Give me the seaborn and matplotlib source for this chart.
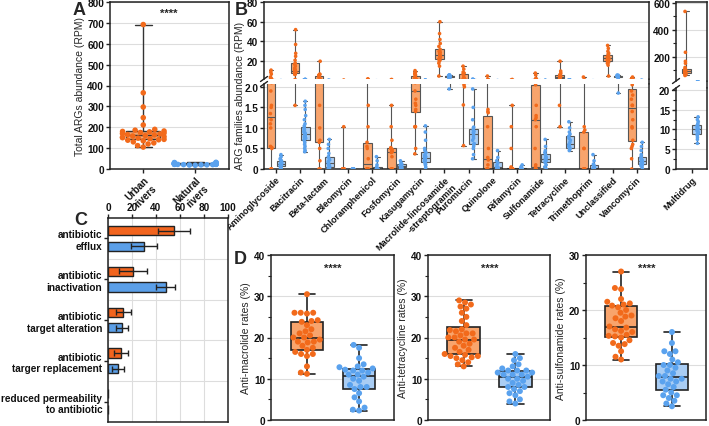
import numpy as np
import pandas as pd
import matplotlib
matplotlib.use("Agg")
import matplotlib.pyplot as plt
from matplotlib.lines import Line2D
from matplotlib.ticker import MultipleLocator
import seaborn as sns

sns.set_theme(style="ticks")
plt.rcParams["font.family"] = ["Liberation Sans", "DejaVu Sans"]
plt.rcParams["font.weight"] = "bold"
plt.rcParams["axes.labelweight"] = "normal"

# ---------------- data ----------------
groups = ["Urban rivers", "Natural rivers"]

# Panel A: total ARGs abundance (RPM)
a_urban = [692, 365, 297, 246, 211, 190, 186, 182, 180, 178, 175, 172, 170, 168, 165, 163,
           160, 158, 155, 152, 150, 148, 145, 142, 140, 138, 135, 130, 125, 120, 112, 105]
a_natural = [18, 19, 20, 20, 21, 21, 22, 22, 22, 23, 23, 24, 24, 24, 25, 25, 25, 26, 26, 26,
             27, 27, 28, 28, 29, 30, 31, 32]
a_ticklabels = ["Urban\nrivers", "Natural\nrivers"]

# Panel B: ARG family abundance (RPM)
families = ["Aminoglycoside", "Bacitracin", "Beta-lactam", "Bleomycin", "Chloramphenicol",
            "Fosfomycin", "Kasugamycin", "Macrolide-lincosamide\n-streptogramin", "Puromucin",
            "Quinolone", "Rifamycin", "Sulfonamide", "Tetracycline", "Trimethoprim",
            "Unclassified", "Vancomycin"]
aminoglycoside_u = [0, 0, 0, 0, 0.5, 0.52, 0.55, 1.0, 1.1, 1.2, 1.35, 1.5, 1.55, 1.9, 2.1, 2.2, 4, 7, 9, 11]
aminoglycoside_n = [0, 0.02, 0.05, 0.06, 0.08, 0.1, 0.1, 0.12, 0.12, 0.13, 0.15, 0.15, 0.18, 0.2, 0.22, 0.25, 0.3, 0.35]
bacitracin_u = [1.55, 6.5, 7, 7.5, 8, 8, 8.5, 9, 9, 9.5, 10, 11, 12, 13, 15, 17, 18, 21, 25, 28, 37, 52]
bacitracin_n = [0.42, 0.45, 0.5, 0.55, 0.6, 0.65, 0.7, 0.72, 0.75, 0.78, 0.8, 0.82, 0.85, 0.85, 0.88,
                0.9, 0.92, 0.95, 0.98, 1.0, 1.05, 1.1, 1.2, 1.3, 1.45, 1.55, 1.65]
betalactam_u = [0, 0, 0.2, 0.5, 0.65, 0.7, 1.0, 1.55, 2.4, 2.6, 3.5, 4.5, 5.5, 6, 6.5, 7, 20]
betalactam_n = [0, 0, 0.02, 0.03, 0.05, 0.08, 0.1, 0.1, 0.12, 0.15, 0.18, 0.22, 0.25, 0.3, 0.38, 0.5, 0.6, 0.72]
bleomycin_u = [0, 0, 0, 0, 0, 0, 0, 0, 0, 0, 0, 0, 0, 0, 1.03]
bleomycin_n = [0, 0, 0, 0, 0, 0, 0, 0, 0, 0, 0, 0]
chloramphenicol_u = [0, 0, 0, 0, 0, 0, 0, 0.25, 0.5, 0.55, 0.65, 1.03, 1.55, 2.2]
chloramphenicol_n = [0, 0, 0, 0, 0, 0, 0, 0, 0, 0.05, 0.1, 0.2, 0.3]
fosfomycin_u = [0, 0, 0, 0, 0, 0.3, 0.4, 0.42, 0.45, 0.48, 0.5, 0.52, 0.7, 1.03, 1.55]
fosfomycin_n = [0, 0.02, 0.04, 0.05, 0.06, 0.08, 0.1, 0.12, 0.15, 0.2]
kasugamycin_u = [0.37, 0.5, 1.03, 1.03, 1.03, 1.4, 1.45, 1.55, 1.6, 1.7, 1.9, 2.1, 2.3, 3, 4, 5, 6, 7, 8, 9, 10.5]
kasugamycin_n = [0, 0.05, 0.1, 0.12, 0.15, 0.18, 0.2, 0.22, 0.25, 0.25, 0.28, 0.3, 0.32, 0.35, 0.4,
                 0.45, 0.5, 0.7, 0.9, 1.05]
mls_u = [5, 15, 18, 20, 21, 22, 23, 24, 25, 25, 26, 27, 28, 29, 30, 32, 35, 38, 42, 48, 60]
mls_n = [1.95, 2.5, 3.5, 4, 4.2, 4.5, 4.6, 4.8, 5, 5, 5.2, 5.4, 5.6, 5.8, 6, 6.2]
puromucin_u = [0.57, 1.56, 2.0, 2.05, 2.1, 2.2, 2.3, 2.4, 2.5, 3, 5, 7, 8, 9, 12, 15]
puromucin_n = [0.25, 0.35, 0.5, 0.55, 0.6, 0.62, 0.7, 0.75, 0.8, 0.85, 0.88, 0.9, 0.92, 0.95, 1.0,
               1.02, 1.2, 1.5, 1.95]
quinolone_u = [0, 0, 0, 0, 0, 0.1, 0.22, 0.28, 0.5, 1.03, 1.37, 1.4, 1.45, 5]
quinolone_n = [0, 0, 0, 0, 0.03, 0.05, 0.1, 0.15, 0.2, 0.28, 0.45]
rifamycin_u = [0, 0, 0, 0, 0, 0, 0, 0, 0, 0, 0.02, 0.05, 0.5, 1.03, 1.55]
rifamycin_n = [0, 0, 0, 0, 0, 0, 0, 0.02, 0.05, 0.1]
sulfonamide_u = [0, 0, 0, 0, 0.05, 0.1, 0.5, 1.03, 1.2, 1.25, 1.3, 1.55, 2.05, 2.1, 2.2, 6, 8]
sulfonamide_n = [0, 0.05, 0.1, 0.15, 0.18, 0.2, 0.22, 0.25, 0.25, 0.28, 0.3, 0.35, 0.4, 0.45, 0.55, 0.72]
tetracycline_u = [1.03, 1.55, 2.5, 3, 3.5, 4, 4, 4.5, 5, 5.5, 6, 7, 8, 10, 20]
tetracycline_n = [0.45, 0.48, 0.5, 0.5, 0.52, 0.55, 0.56, 0.57, 0.6, 0.65, 0.7, 0.75, 0.8, 0.85, 0.9, 1.0, 1.15]
trimethoprim_u = [0, 0, 0, 0, 0, 0, 0, 0.5, 0.5, 0.9, 0.95, 1.03, 4]
trimethoprim_n = [0, 0, 0, 0, 0, 0.02, 0.05, 0.08, 0.1, 0.12, 0.2, 0.35]
unclassified_u = [5, 16, 18, 19, 20, 21, 21, 22, 22, 23, 23, 24, 25, 26, 27, 28, 30, 33, 36]
unclassified_n = [1.85, 3.5, 4, 4.2, 4.5, 4.7, 4.8, 5, 5, 5.2, 5.5, 5.8, 6]
vancomycin_u = [0, 0.25, 0.5, 0.55, 0.6, 0.7, 1.0, 1.03, 1.2, 1.4, 1.55, 1.55, 1.7, 1.8, 1.9, 2.05,
                2.1, 2.2, 2.3, 4]
vancomycin_n = [0, 0.05, 0.08, 0.1, 0.12, 0.15, 0.18, 0.2, 0.2, 0.22, 0.25, 0.28, 0.3, 0.35, 0.45, 0.55, 0.65]
multidrug_u = [60, 65, 70, 72, 75, 78, 80, 82, 85, 88, 90, 92, 95, 98, 100, 105, 110, 120, 150, 165, 232, 535]
multidrug_n = [6.5, 7.5, 8, 8.5, 8.8, 9, 9.3, 9.6, 9.8, 10, 10, 10.2, 10.5, 10.8, 11, 11.2, 11.5, 12, 12.5, 13.2]

# Panel C: mechanism share (%), mean and error
mechanisms = ["antibiotic\nefflux", "antibiotic\ninactivation", "antibiotic\ntarget alteration",
              "antibiotic\ntarger replacement", "reduced permeability\nto antibiotic"]
c_urban = [55, 20.5, 12.8, 10.6, 0]
c_urban_err = [13, 11.7, 6, 5.7, 0]
c_natural = [30, 48, 11.4, 8.6, 0]
c_natural_err = [11, 8, 5, 5, 0]

# Panel D: resistance rates (%)
d_mac_urban = [30.5, 26.0, 26.0, 26.0, 25.8, 24.2, 24.0, 23.8, 23.0, 22.0, 21.5, 21.0, 20.5, 20.0, 20.0,
               19.5, 19.0, 19.0, 18.8, 18.0, 17.5, 17.0, 16.5, 16.0, 16.0, 15.5, 13.0, 11.5, 11.2]
d_mac_natural = [18.2, 17.5, 15, 13.5, 13, 12.8, 12.5, 12.2, 12, 12, 11.5, 11, 11, 10.5, 10, 9.5, 8.5,
                 8, 8, 7.5, 6.5, 5.5, 4.5, 3, 2.5, 2.3]
d_tet_urban = [29, 28.5, 28, 27.5, 27, 26, 25, 24, 23, 22, 21.8, 21.5, 21, 21, 20.5, 20, 20, 19.5, 19.5,
               19, 18.5, 18, 17.5, 17, 16.5, 16, 15.8, 15.5, 15.5, 15.2, 15, 14.5, 14, 13.5, 13]
d_tet_natural = [16, 15, 14.5, 13.5, 13, 12.5, 12, 12, 12, 11.5, 11.5, 11, 11, 11, 10.5, 10, 10, 9.5, 9,
                 8.5, 8, 8, 7.5, 7, 6.5, 6, 5, 4.5, 4]
d_sul_urban = [27, 24, 23.8, 22, 21.5, 21.2, 21, 20.8, 20.5, 20, 19.5, 19, 18.8, 18.5, 18, 17, 16.8,
               16.5, 16.2, 16, 15.5, 15.3, 15.2, 15, 14.5, 14, 13.8, 13.5, 12.5, 11.5, 11]
d_sul_natural = [16, 14, 12.5, 12.5, 12, 11, 10.5, 10, 10, 9.5, 9, 8.5, 8, 8, 7.5, 7.5, 7, 7, 6.5, 6,
                 5.5, 5, 4.5, 4.5, 4, 3.5, 3, 2.5]
d_labels = ["Anti-macrolide rates (%)", "Anti-tetracycline rates (%)", "Anti-sulfonamide rates (%)"]

# ---------------- style ----------------
OR = "#F26A1B"
OR_FACE = "#F8A46C"
BL = "#5AA2EE"
BL_FACE = "#A9CDF4"
OR_BAR = "#F2641E"
BL_BAR = "#5B9FE8"
GRID = "#DDDDDD"
EDGE = "#222222"
FS = 7.2
FS_LAB = 7.5
FS_B = 6.6

face_pal = {groups[0]: OR_FACE, groups[1]: BL_FACE}
pt_pal = {groups[0]: OR, groups[1]: BL}

W, H = 709, 427
fig = plt.figure(figsize=(W / 100, H / 100), dpi=100)


def add_ax(l, t, r, b):
    return fig.add_axes([l / W, 1 - b / H, (r - l) / W, (b - t) / H])


def style(ax):
    for s in ax.spines.values():
        s.set_linewidth(1.1)
        s.set_color(EDGE)
    ax.tick_params(axis="both", which="major", length=3, width=1, color=EDGE,
                   labelsize=FS, pad=1.2, labelcolor="#111111")
    ax.tick_params(axis="both", which="minor", length=2, width=0.8, color=EDGE)
    ax.set_axisbelow(True)


def long_df(u, n):
    return pd.DataFrame({"group": [groups[0]] * len(u) + [groups[1]] * len(n),
                         "val": list(u) + list(n)})


# ---------------- Panel A ----------------
axA = add_ax(110, 3, 229, 170)
dfA = long_df(a_urban, a_natural)
axA.grid(True, color=GRID, lw=0.8)
sns.boxplot(data=dfA, x="group", y="val", hue="group", order=groups, hue_order=groups,
            palette=face_pal, saturation=1, width=0.65, whis=(0, 100), fliersize=0,
            linecolor="#333333", linewidth=1, legend=False, ax=axA)
sns.swarmplot(data=dfA, x="group", y="val", hue="group", order=groups, hue_order=groups,
              palette=pt_pal, size=4, linewidth=0, legend=False, ax=axA)
axA.set_ylim(0, 800)
axA.set_xlim(-0.64, 1.65)
axA.set_yticks(range(0, 801, 100))
axA.set_xticks([0, 1])
axA.set_xticklabels(a_ticklabels, rotation=45, ha="right", rotation_mode="anchor", fontsize=7.0)
axA.set_xlabel("")
axA.set_ylabel("Total ARGs abundance (RPM)", fontsize=FS_LAB, labelpad=2)
axA.text(0.5, 748, "****", ha="center", va="center", fontsize=8)
style(axA)
axA.tick_params(axis="x", labelsize=7.0, pad=0.8)

# ---------------- Panel B ----------------
b_u = [aminoglycoside_u, bacitracin_u, betalactam_u, bleomycin_u, chloramphenicol_u, fosfomycin_u,
       kasugamycin_u, mls_u, puromucin_u, quinolone_u, rifamycin_u, sulfonamide_u, tetracycline_u,
       trimethoprim_u, unclassified_u, vancomycin_u]
b_n = [aminoglycoside_n, bacitracin_n, betalactam_n, bleomycin_n, chloramphenicol_n, fosfomycin_n,
       kasugamycin_n, mls_n, puromucin_n, quinolone_n, rifamycin_n, sulfonamide_n, tetracycline_n,
       trimethoprim_n, unclassified_n, vancomycin_n]
rows = []
for fam, u, n in zip(families, b_u, b_n):
    rows += [(fam, groups[0], v) for v in u]
    rows += [(fam, groups[1], v) for v in n]
dfB = pd.DataFrame(rows, columns=["family", "group", "val"])
dfM = pd.DataFrame([("Multidrug", groups[0], v) for v in multidrug_u] +
                   [("Multidrug", groups[1], v) for v in multidrug_n],
                   columns=["family", "group", "val"])


def draw_b(ax, df, order, width, gap, jit, size, seed):
    sns.boxplot(data=df, x="family", y="val", hue="group", order=order, hue_order=groups,
                palette=face_pal, saturation=1, width=width, gap=gap, whis=(0, 100),
                fliersize=0, linecolor="#555555", linewidth=0.8, legend=False, ax=ax)
    np.random.seed(seed)
    sns.stripplot(data=df, x="family", y="val", hue="group", order=order, hue_order=groups,
                  palette=pt_pal, dodge=True, jitter=jit, size=size, linewidth=0,
                  legend=False, ax=ax)


BL_X, BR_X = 264, 649
axBt = add_ax(BL_X, 3, BR_X, 80)
axBb = add_ax(BL_X, 85, BR_X, 170)
for ax in (axBt, axBb):
    ax.grid(True, axis="y", color=GRID, lw=0.8)
    draw_b(ax, dfB, families, 0.85, 0.15, 0.07, 2.6, 3)
    ax.set_xlim(-0.5, len(families) - 0.5)
    ax.set_xlabel("")
    ax.set_ylabel("")
    style(ax)
axBt.set_ylim(2, 80)
axBt.set_yticks([20, 40, 60, 80])
axBt.spines["bottom"].set_visible(False)
axBt.tick_params(axis="x", bottom=False, labelbottom=False)
axBb.set_ylim(0, 2.07)
axBb.set_yticks([0, 0.5, 1.0, 1.5, 2.0])
axBb.set_yticklabels(["0", "0.5", "1.0", "1.5", "2.0"])
axBb.spines["top"].set_visible(False)
axBb.set_xticks(range(len(families)))
axBb.set_xticklabels(families, rotation=45, ha="right", rotation_mode="anchor", fontsize=FS_B)
fig.text(240 / W, 1 - 96 / H, "ARG families abundance (RPM)", rotation=90, ha="center",
         va="center", fontsize=FS_LAB, fontweight="normal")

axMt = add_ax(676, 3, 707, 82)
axMb = add_ax(676, 89, 707, 170)
for ax in (axMt, axMb):
    ax.grid(True, axis="y", color=GRID, lw=0.8)
    draw_b(ax, dfM, ["Multidrug"], 0.66, 0.08, 0.04, 2.6, 5)
    ax.set_xlim(-0.5, 0.5)
    ax.set_xlabel("")
    ax.set_ylabel("")
    style(ax)
axMt.set_ylim(19, 605)
axMt.set_yticks([200, 400, 600])
axMt.yaxis.set_minor_locator(MultipleLocator(100))
axMt.spines["bottom"].set_visible(False)
axMt.tick_params(axis="x", bottom=False, labelbottom=False)
axMb.set_ylim(0, 20.5)
axMb.set_yticks([0, 5, 10, 15, 20])
axMb.yaxis.set_minor_locator(MultipleLocator(2.5))
axMb.spines["top"].set_visible(False)
axMb.set_xticks([0])
axMb.set_xticklabels(["Multidrug"], rotation=45, ha="right", rotation_mode="anchor", fontsize=FS_B)


def fig_line(x0, y0, x1, y1, lw=1.1):
    fig.add_artist(Line2D([x0 / W, x1 / W], [1 - y0 / H, 1 - y1 / H], color=EDGE, lw=lw))


# break marks and continuous right spines
for xl, xr, yt, yb in ((BL_X, BR_X, 80, 85), (676, 707, 82, 89)):
    fig_line(xr, yt, xr, yb)
    for yy in (yt, yb):
        fig_line(xl - 3.5, yy + 2.5, xl + 3.5, yy - 2.5, lw=1.0)

# ---------------- Panel C ----------------
axC = add_ax(108, 219, 228, 423)
dfC = pd.DataFrame({"mech": mechanisms * 2,
                    "group": [groups[0]] * len(mechanisms) + [groups[1]] * len(mechanisms),
                    "val": c_urban + c_natural})
sns.barplot(data=dfC, y="mech", x="val", hue="group", order=mechanisms, hue_order=groups,
            palette={groups[0]: OR_BAR, groups[1]: BL_BAR}, saturation=1, orient="h",
            width=0.76, gap=0.4, edgecolor=EDGE, linewidth=1, errorbar=None, legend=False, ax=axC)
for cont, vals, errs in zip(axC.containers, (c_urban, c_natural), (c_urban_err, c_natural_err)):
    ys = [p.get_y() + p.get_height() / 2 for p in cont.patches]
    for yv, v, e in zip(ys, vals, errs):
        if v > 0:
            axC.errorbar(v, yv, xerr=e, fmt="none", ecolor=EDGE, elinewidth=1, capsize=2.2,
                         capthick=1)
axC.set_xlim(0, 100)
axC.set_ylim(4.5, -0.5)
axC.set_xticks(range(0, 101, 20))
axC.xaxis.tick_top()
axC.set_yticks(range(len(mechanisms)))
axC.set_yticklabels(mechanisms, fontsize=FS)
axC.set_yticks([0.5, 1.5, 2.5, 3.5], minor=True)
axC.grid(True, axis="x", which="major", color=GRID, lw=0.8)
axC.grid(True, axis="y", which="minor", color=GRID, lw=0.8)
axC.set_xlabel("")
axC.set_ylabel("")
style(axC)
axC.tick_params(axis="y", which="minor", length=0)

# ---------------- Panel D ----------------
d_sets = [(d_mac_urban, d_mac_natural, 40, 37), (d_tet_urban, d_tet_natural, 40, 37),
          (d_sul_urban, d_sul_natural, 30, 27.7)]
d_pos = [(271, 394), (428, 550), (586, 706)]
for (u, n, top, star_y), (l, r), lab in zip(d_sets, d_pos, d_labels):
    ax = add_ax(l, 256, r, 421)
    df = long_df(u, n)
    ax.grid(True, color=GRID, lw=0.8)
    sns.boxplot(data=df, x="group", y="val", hue="group", order=groups, hue_order=groups,
                palette=face_pal, saturation=1, width=0.63, whis=(0, 100), fliersize=0,
                linecolor=EDGE, linewidth=1.2, legend=False, ax=ax)
    sns.swarmplot(data=df, x="group", y="val", hue="group", order=groups, hue_order=groups,
                  palette=pt_pal, size=4.3, linewidth=0, legend=False, ax=ax)
    ax.set_ylim(0, top)
    ax.set_xlim(-0.69, 1.67)
    ax.set_yticks(range(0, top + 1, 10))
    ax.yaxis.set_minor_locator(MultipleLocator(5))
    ax.set_xticks([0, 1])
    ax.set_xlabel("")
    ax.set_ylabel(lab, fontsize=FS_LAB, labelpad=2)
    ax.text(0.5, star_y, "****", ha="center", va="center", fontsize=8)
    style(ax)
    ax.tick_params(axis="x", length=0, labelbottom=False)

# ---------------- panel letters ----------------
for letter, x, y in (("A", 73, 2), ("B", 235, 2), ("C", 74, 212), ("D", 234, 251)):
    fig.text(x / W, 1 - y / H, letter, fontsize=13, fontweight="bold", ha="left", va="top")

fig.savefig("out.png", dpi=100)
